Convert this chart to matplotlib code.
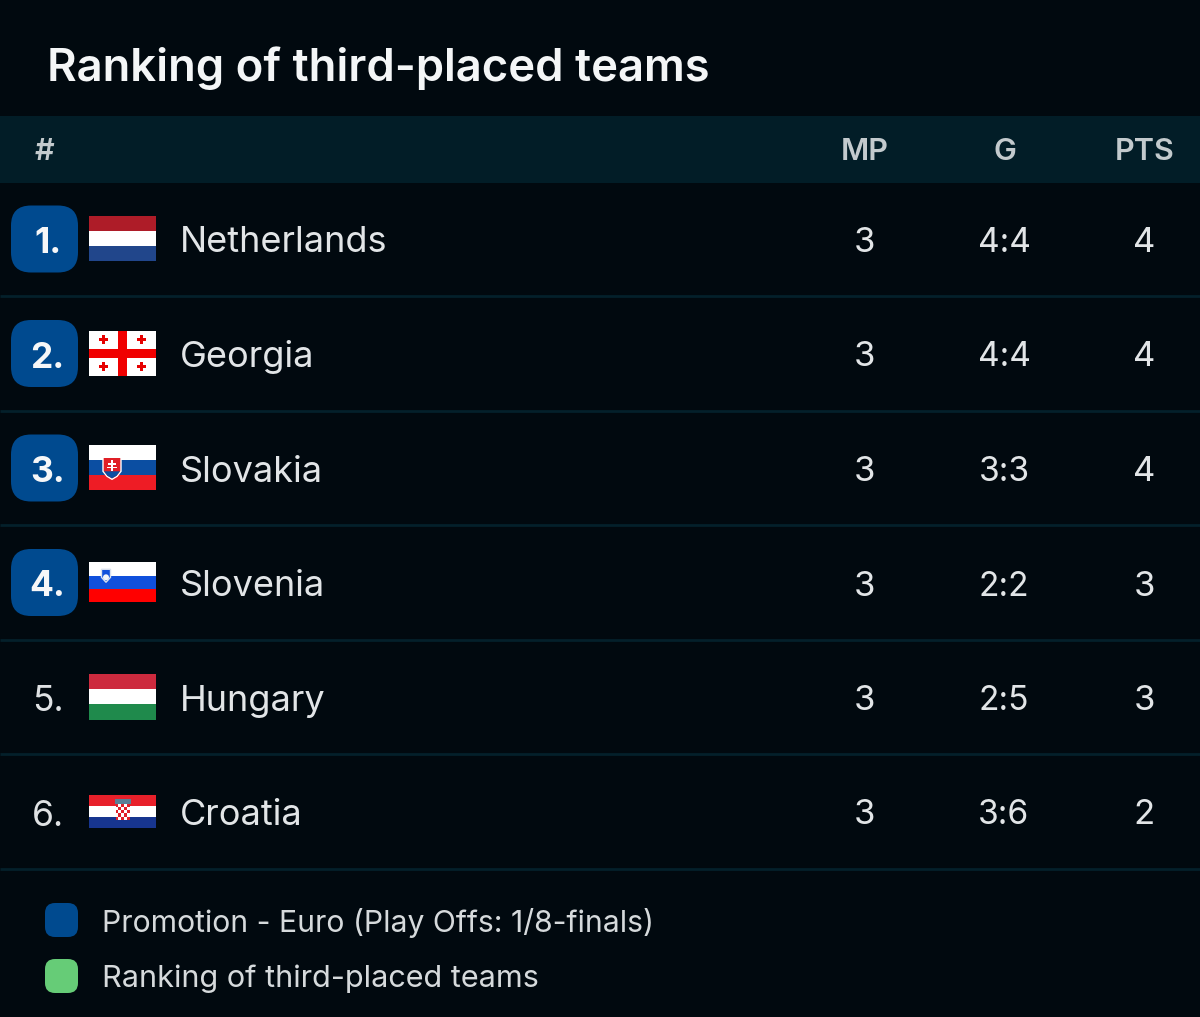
import matplotlib
matplotlib.use("Agg")
import matplotlib.pyplot as plt
from matplotlib.patches import FancyBboxPatch, Rectangle, Polygon, Circle

title = "Ranking of third-placed teams"
headers = ["#", "MP", "G", "PTS"]
ranks = ["1.", "2.", "3.", "4.", "5.", "6."]
teams = ["Netherlands", "Georgia", "Slovakia", "Slovenia", "Hungary", "Croatia"]
played = [3, 3, 3, 3, 3, 3]
goals = ["4:4", "4:4", "3:3", "2:2", "2:5", "3:6"]
points = [4, 4, 4, 3, 3, 2]
promoted = [True, True, True, True, False, False]
legend_labels = ["Promotion - Euro (Play Offs: 1/8-finals)", "Ranking of third-placed teams"]
legend_colors = ["#004a8f", "#66cc77"]
legend_sizes = [21.7, 22.05]
flag_stripes = {
    "Netherlands": ["#ae1c28", "#ffffff", "#21468b"],
    "Slovakia": ["#ffffff", "#0b4ea2", "#ee1c25"],
    "Slovenia": ["#ffffff", "#1050dc", "#ff0000"],
    "Hungary": ["#cd2a3e", "#ffffff", "#1f8a4c"],
    "Croatia": ["#e8202a", "#ffffff", "#17358f"],
}
flag_heights = {"Netherlands": 45, "Georgia": 45, "Slovakia": 45, "Slovenia": 40, "Hungary": 45, "Croatia": 33}

BG = "#01090f"
FONT = "Inter"
W, H = 1200, 1017
fig = plt.figure(figsize=(W / 100, H / 100), dpi=100, facecolor=BG)
ax = fig.add_axes([0, 0, 1, 1])
ax.set_xlim(0, W)
ax.set_ylim(H, 0)
ax.axis("off")


def label(x, y, s, size, color="#e8eaec", ha="center", weight="normal"):
    ax.text(x, y, s, fontsize=size, color=color, ha=ha, va="center_baseline",
            family=FONT, fontweight=weight)


def box(x, y, w, h, r, color):
    ax.add_patch(FancyBboxPatch((x + r, y + r), w - 2 * r, h - 2 * r,
                                boxstyle=f"round,pad={r},rounding_size={r}",
                                fc=color, ec="none"))


label(46.8, 64, title, 32.7, "#f4f6f7", ha="left", weight="semibold")

ax.add_patch(Rectangle((0, 116), W, 67, fc="#021d27", ec="none"))
col_x = [864.5, 1004, 1144]
label(44, 149, headers[0], 22, "#c3cacd", weight="semibold")
for x, h in zip(col_x, headers[1:]):
    label(x + 0.5, 149, h, 22, "#c3cacd", weight="semibold")

ROW0, STEP = 239.5, 114.5
FX, FW = 89, 67
for i, team in enumerate(teams):
    y = ROW0 + i * STEP
    ax.plot([0, W], [y + 56.5, y + 56.5], color="#04202b", lw=2, solid_capstyle="butt")
    if promoted[i]:
        box(11, y - 34, 67, 67, 20, "#004a8f")
    label(47.5, y + 0.5, ranks[i], 25.5, "#f6f7f8" if promoted[i] else "#dfe2e4",
          weight="bold" if promoted[i] else "normal")

    fh = flag_heights[team]
    top = y - fh / 2 - 0.7
    if team == "Georgia":
        ax.add_patch(Rectangle((FX, top), FW, fh, fc="white", ec="none"))
        ax.add_patch(Rectangle((FX + 29, top), 9, fh, fc="#f00000", ec="none"))
        ax.add_patch(Rectangle((FX, top + 18), FW, 9, fc="#f00000", ec="none"))
        for dx in (14.7, 52.7):
            for dy in (9, 36):
                ax.add_patch(Rectangle((FX + dx - 4.5, top + dy - 1.5), 9, 3, fc="#e60000", ec="none"))
                ax.add_patch(Rectangle((FX + dx - 1.5, top + dy - 4.5), 3, 9, fc="#e60000", ec="none"))
    else:
        sh = fh / 3
        for k, c in enumerate(flag_stripes[team]):
            ax.add_patch(Rectangle((FX, top + k * sh), FW, sh + 0.2, fc=c, ec="none"))
    if team == "Slovakia":
        cx = FX + 23
        ax.add_patch(Polygon([(cx - 9, top + 12), (cx + 9, top + 12), (cx + 9, top + 26),
                              (cx + 5, top + 31), (cx, top + 34), (cx - 5, top + 31), (cx - 9, top + 26)],
                             fc="#e01f26", ec="white", lw=1))
        ax.add_patch(Polygon([(cx - 8, top + 26), (cx + 8, top + 26), (cx + 4.5, top + 30.5),
                              (cx, top + 33), (cx - 4.5, top + 30.5)], fc="#0b4ea2", ec="none"))
        ax.add_patch(Rectangle((cx - 1, top + 15), 2, 11, fc="white", ec="none"))
        ax.add_patch(Rectangle((cx - 4, top + 18), 8, 1.6, fc="white", ec="none"))
        ax.add_patch(Rectangle((cx - 5, top + 21.5), 10, 1.6, fc="white", ec="none"))
    if team == "Slovenia":
        cx = FX + 17
        ax.add_patch(Polygon([(cx - 4.5, top + 7), (cx + 4.5, top + 7), (cx + 4.5, top + 15),
                              (cx, top + 20), (cx - 4.5, top + 15)], fc="#1050dc", ec="#d8e0ee", lw=1))
        ax.add_patch(Circle((cx, top + 15), 3, fc="#f2f4f8", ec="none"))
    if team == "Croatia":
        cx = FX + 33.5
        ax.add_patch(Rectangle((cx - 8, top + 4), 16, 5, fc="#5a7f96", ec="none"))
        for a in range(5):
            for b in range(5):
                ax.add_patch(Rectangle((cx - 7 + a * 2.8, top + 9 + b * 3.2), 2.8, 3.2,
                                       fc="#e0202a" if (a + b) % 2 == 0 else "white", ec="none"))

    label(180, y, team, 26, "#e2e5e7", ha="left")
    label(col_x[0], y, str(played[i]), 25, "#e2e5e7")
    label(col_x[1], y, goals[i], 24.2, "#e2e5e7")
    label(col_x[2], y, str(points[i]), 25, "#e2e5e7")

for k, (lab, c, fs) in enumerate(zip(legend_labels, legend_colors, legend_sizes)):
    y = 920 + k * 56
    box(45, y - 17, 33, 34, 10, c)
    label(102, y - 0.5, lab, fs, "#d6dadc", ha="left")

fig.savefig("out.png", dpi=100, facecolor=BG)
